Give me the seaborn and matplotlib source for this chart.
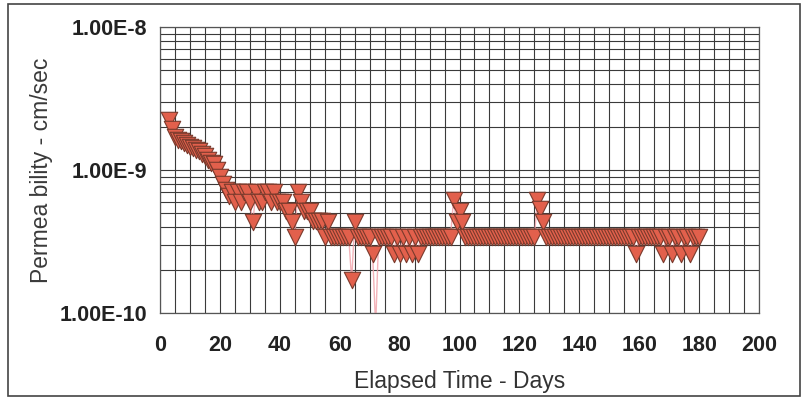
import numpy as np
import pandas as pd
import matplotlib
matplotlib.use('Agg')
import matplotlib.pyplot as plt
import seaborn as sns
from matplotlib.patches import Rectangle

# elapsed days and measured permeability (cm/sec)
days = list(range(3, 181))
perm = [
    2.25e-9, 1.95e-9, 1.70e-9, 1.62e-9, 1.60e-9, 1.55e-9, 1.50e-9, 1.45e-9, 1.42e-9, 1.38e-9,  # 3-12
    1.35e-9, 1.30e-9, 1.25e-9, 1.18e-9, 1.12e-9, 1.10e-9, 1.00e-9, 9.0e-10, 8.0e-10, 7.2e-10,  # 13-22
    6.6e-10, 7.0e-10, 6.0e-10, 7.0e-10, 6.0e-10, 7.0e-10, 7.0e-10, 6.0e-10, 4.3e-10, 7.0e-10,  # 23-32
    6.0e-10, 6.0e-10, 7.0e-10, 7.0e-10, 6.0e-10, 7.0e-10, 6.0e-10, 6.0e-10, 6.0e-10, 5.2e-10,  # 33-42
    5.2e-10, 4.3e-10, 3.4e-10, 7.0e-10, 6.0e-10, 5.2e-10, 5.2e-10, 5.2e-10, 4.4e-10, 4.4e-10,  # 43-52
    4.4e-10, 4.4e-10, 3.4e-10, 4.3e-10, 3.4e-10, 3.4e-10, 3.4e-10, 3.4e-10, 3.4e-10, 3.4e-10,  # 53-62
    3.4e-10, 1.7e-10, 4.3e-10, 3.4e-10, 3.4e-10, 3.4e-10, 3.4e-10, 3.4e-10, 2.6e-10, 8.0e-11,  # 63-72
    3.4e-10, 3.4e-10, 3.4e-10, 3.4e-10, 3.4e-10, 2.6e-10, 3.4e-10, 2.6e-10, 3.4e-10, 2.6e-10,  # 73-82
    3.4e-10, 2.6e-10, 3.4e-10, 2.6e-10, 3.4e-10, 3.4e-10, 3.4e-10, 3.4e-10, 3.4e-10, 3.4e-10,  # 83-92
    3.4e-10, 3.4e-10, 3.4e-10, 3.4e-10, 3.4e-10, 6.2e-10, 4.3e-10, 5.2e-10, 4.3e-10, 3.4e-10,  # 93-102
    3.4e-10, 3.4e-10, 3.4e-10, 3.4e-10, 3.4e-10, 3.4e-10, 3.4e-10, 3.4e-10, 3.4e-10, 3.4e-10,  # 103-112
    3.4e-10, 3.4e-10, 3.4e-10, 3.4e-10, 3.4e-10, 3.4e-10, 3.4e-10, 3.4e-10, 3.4e-10, 3.4e-10,  # 113-122
    3.4e-10, 3.4e-10, 3.4e-10, 6.2e-10, 5.3e-10, 4.3e-10, 3.4e-10, 3.4e-10, 3.4e-10, 3.4e-10,  # 123-132
    3.4e-10, 3.4e-10, 3.4e-10, 3.4e-10, 3.4e-10, 3.4e-10, 3.4e-10, 3.4e-10, 3.4e-10, 3.4e-10,  # 133-142
    3.4e-10, 3.4e-10, 3.4e-10, 3.4e-10, 3.4e-10, 3.4e-10, 3.4e-10, 3.4e-10, 3.4e-10, 3.4e-10,  # 143-152
    3.4e-10, 3.4e-10, 3.4e-10, 3.4e-10, 3.4e-10, 3.4e-10, 2.6e-10, 3.4e-10, 3.4e-10, 3.4e-10,  # 153-162
    3.4e-10, 3.4e-10, 3.4e-10, 3.4e-10, 3.4e-10, 2.6e-10, 3.4e-10, 3.4e-10, 2.6e-10, 3.4e-10,  # 163-172
    3.4e-10, 2.6e-10, 3.4e-10, 3.4e-10, 2.6e-10, 3.4e-10, 3.4e-10, 3.4e-10,                    # 173-180
]

ytick_vals = [1e-10, 1e-9, 1e-8]
ytick_labels = ['1.00E-10', '1.00E-9', '1.00E-8']
xtick_vals = [0, 20, 40, 60, 80, 100, 120, 140, 160, 180, 200]

df = pd.DataFrame({'day': days, 'perm': perm})

sns.set_style('white')
plt.rcParams['font.family'] = ['Liberation Sans', 'DejaVu Sans']

fig = plt.figure(figsize=(8.06, 3.99), dpi=100)
ax = fig.add_axes([160 / 806, 1 - 313 / 399, 599 / 806, 286 / 399])

ax.set_yscale('log')
ax.set_ylim(1e-10, 1e-8)
ax.set_xlim(0, 200)

# grid: every 5 days, every 1..9 in each decade
ax.set_xticks(np.arange(0, 201, 5), minor=True)
ax.set_xticks(xtick_vals)
ax.set_yticks(ytick_vals)
ax.set_yticklabels(ytick_labels)
ax.yaxis.set_minor_locator(matplotlib.ticker.LogLocator(base=10, subs=np.arange(2, 10)))
ax.yaxis.set_minor_formatter(matplotlib.ticker.NullFormatter())
ax.grid(which='both', color='#3a3a3a', linewidth=0.8)
ax.set_axisbelow(True)
ax.tick_params(which='both', length=0)
ax.tick_params(axis='x', pad=16, labelsize=15.5, labelcolor='#222222')
ax.tick_params(axis='y', pad=9, labelsize=15.5, labelcolor='#222222')
for lab in ax.get_xticklabels() + ax.get_yticklabels():
    lab.set_fontweight('bold')
for s in ax.spines.values():
    s.set_color('#555555')
    s.set_linewidth(0.9)

sns.lineplot(data=df, x='day', y='perm', ax=ax, color='#f0a0a8', linewidth=1.0,
             alpha=0.8, zorder=2, legend=False)
sns.scatterplot(data=df, x='day', y='perm', ax=ax, marker='v', s=140,
                color='#e2604c', edgecolor='#7a3a2c', linewidth=0.8, zorder=3,
                legend=False)

ax.set_xlabel('Elapsed Time - Days', fontsize=16.5, color='#333333', labelpad=10)
ax.set_ylabel('Permea bility - cm/sec', fontsize=16.5, color='#3a3a3a', labelpad=5)

fig.patches.append(Rectangle((8 / 806, 3 / 399), 792 / 806, 392 / 399,
                             transform=fig.transFigure, fill=False,
                             edgecolor='#444444', linewidth=1.2))

fig.savefig('out.png', dpi=100)
